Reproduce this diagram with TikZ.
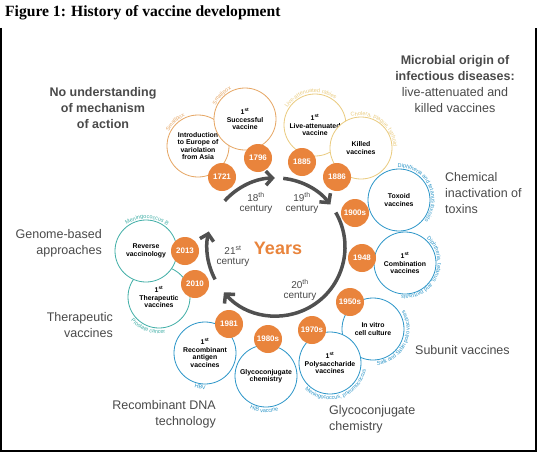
\documentclass[tikz,border=0pt]{standalone}
\usepackage{fontspec}
\setmainfont{Liberation Sans}
\newfontfamily\titlefont{Liberation Serif}
\usetikzlibrary{arrows.meta,decorations.text}
\definecolor{vorange}{HTML}{E9843C}
\definecolor{vgold}{HTML}{E6A562}
\definecolor{vyellow}{HTML}{EACB7E}
\definecolor{vblue}{HTML}{2A95C8}
\definecolor{vteal}{HTML}{3FAEA6}
\definecolor{vgray}{HTML}{4A4A4A}
\definecolor{varrow}{HTML}{505050}
\newcommand\arclabel[6]{%
  \path[decorate,decoration={text along path,text align=center,text color=#5,
    text={|\fontsize{5.5}{6}\selectfont|#6}}]
    (#1.center) ++(#3:#2) arc[start angle=#3,end angle=#4,radius=#2];}
\begin{document}
\begin{tikzpicture}[x=1pt,y=1pt,
  bigc/.style={circle,draw=#1,line width=0.8pt,fill=white,minimum size=62pt,inner sep=0pt,
    align=center,font=\fontsize{6.9}{7.4}\selectfont\bfseries},
  datec/.style={circle,fill=vorange,minimum size=28pt,inner sep=0pt,text=white,
    font=\fontsize{8}{9}\selectfont\bfseries},
  side/.style={text=vgray,font=\fontsize{12.5}{16}\selectfont,inner sep=0pt},
  cent/.style={text=vgray,font=\fontsize{10}{10}\selectfont,align=center,inner sep=0pt},
  arr/.style={draw=varrow,line width=3.5pt,-{Straight Barb[length=6.5pt,width=14pt]}}]
\useasboundingbox (0,0) rectangle (537,-452);
\fill[white] (0,0) rectangle (537,-452);
% frame
\draw[line width=1.2pt] (1,-28) -- (1,-451) -- (536,-451) -- (536,-28);
% title
\node[anchor=base west,inner sep=0pt,font=\titlefont\fontsize{15.6}{17}\selectfont\bfseries] (title) at (5,-17) {Figure 1: History of vaccine development};
% ring of arrows
\coordinate (c) at (276,-247);
\draw[arr] (c) ++(138:69) arc[start angle=138,end angle=91,radius=69];
\draw[arr] (c) ++(84:69) arc[start angle=84,end angle=38,radius=69];
\draw[arr] (c) ++(30:69) arc[start angle=30,end angle=-139,radius=69];
\draw[arr] (c) ++(208:69) arc[start angle=208,end angle=167,radius=69];
\node[cent] (c18) at (256,-203) {18\textsuperscript{th}\\century};
\node[cent] (c19) at (302,-203) {19\textsuperscript{th}\\century};
\node[cent] (c20) at (300,-290) {20\textsuperscript{th}\\century};
\node[cent] (c21) at (233,-256) {21\textsuperscript{st}\\century};
\node[text=vorange,font=\fontsize{18}{20}\selectfont\bfseries] (years) at (278,-248) {Years};
% big circles
\node[bigc=vgold] (intro) at (198,-146) {Introduction\\to Europe of\\variolation\\from Asia};
\node[bigc=vgold] (succ) at (245,-119) {1\textsuperscript{st}\\Successful\\vaccine};
\node[bigc=vyellow] (live) at (315,-125) {1\textsuperscript{st}\\Live-attenuated\\vaccine};
\node[bigc=vyellow] (killed) at (361,-148) {Killed\\vaccines};
\node[bigc=vblue] (toxoid) at (399,-200) {Toxoid\\vaccines};
\node[bigc=vblue] (comb) at (405,-263) {1\textsuperscript{st}\\Combination\\vaccines};
\node[bigc=vblue] (invitro) at (373,-329) {In vitro\\cell culture};
\node[bigc=vblue] (poly) at (330,-363) {1\textsuperscript{st}\\Polysaccharide\\vaccines};
\node[bigc=vblue] (glyco) at (266,-376) {Glycoconjugate\\chemistry};
\node[bigc=vblue] (recomb) at (205,-353) {1\textsuperscript{st}\\Recombinant\\antigen\\vaccines};
\node[bigc=vteal] (thera) at (159,-297) {1\textsuperscript{st}\\Therapeutic\\vaccines};
\node[bigc=vteal] (reverse) at (146,-251) {Reverse\\vaccinology};
% arc labels
\arclabel{intro}{32.5}{164}{104}{vgold}{Smallpox}
\arclabel{succ}{32.5}{165}{105}{vgold}{Smallpox}
\arclabel{live}{32.5}{150}{50}{vyellow}{Live-attenuated rabies}
\arclabel{killed}{32.5}{115}{-5}{vyellow}{Cholera, plague, typhoid}
\arclabel{toxoid}{32.5}{110}{-56}{vblue}{Diphtheria and tetanus toxoids}
\arclabel{comb}{32.5}{60}{-108}{vblue}{Diphtheria, tetanus, and pertussis}
\arclabel{invitro}{36.5}{-100}{48}{vblue}{Salk and Sabin polio vaccines}
\arclabel{poly}{36.5}{210}{366}{vblue}{Meningococcus, pneumococcus}
\arclabel{glyco}{36.5}{237}{297}{vblue}{HIB vaccine}
\arclabel{recomb}{36.5}{240}{284}{vblue}{HBV}
\arclabel{thera}{36.5}{215}{285}{vteal}{Prostate cancer}
\arclabel{reverse}{32.5}{128}{48}{vteal}{Meningococcus B}
% date circles
\node[datec] (d1721) at (222,-177) {1721};
\node[datec] (d1796) at (258,-158) {1796};
\node[datec] (d1885) at (302,-162) {1885};
\node[datec] (d1886) at (337,-177) {1886};
\node[datec] (d1900) at (355,-213) {1900s};
\node[datec] (d1948) at (362,-258) {1948};
\node[datec] (d1950) at (350,-302) {1950s};
\node[datec] (d1970) at (312,-330) {1970s};
\node[datec] (d1980) at (268,-339) {1980s};
\node[datec] (d1981) at (229,-324) {1981};
\node[datec] (d2010) at (195,-284) {2010};
\node[datec] (d2013) at (185,-251) {2013};
% side labels
\node[side,align=center,font=\fontsize{12.5}{16}\selectfont\bfseries] (nomech) at (103,-108) {No understanding\\of mechanism\\of action};
\node[side,align=center] (microb) at (455,-84) {\textbf{Microbial origin of}\\\textbf{infectious diseases:}\\live-attenuated and\\killed vaccines};
\node[side,align=left,anchor=west] (chem) at (445,-193) {Chemical\\inactivation of\\toxins};
\node[side,align=right,anchor=east] (genome) at (102,-243) {Genome-based\\approaches};
\node[side,align=right,anchor=east] (therap) at (113,-325) {Therapeutic\\vaccines};
\node[side,align=right,anchor=east] (rdna) at (216,-414) {Recombinant DNA\\technology};
\node[side,align=left,anchor=west] (glychem) at (329,-419) {Glycoconjugate\\chemistry};
\node[side,anchor=west] (subunit) at (415,-350) {Subunit vaccines};
\end{tikzpicture}
\end{document}
